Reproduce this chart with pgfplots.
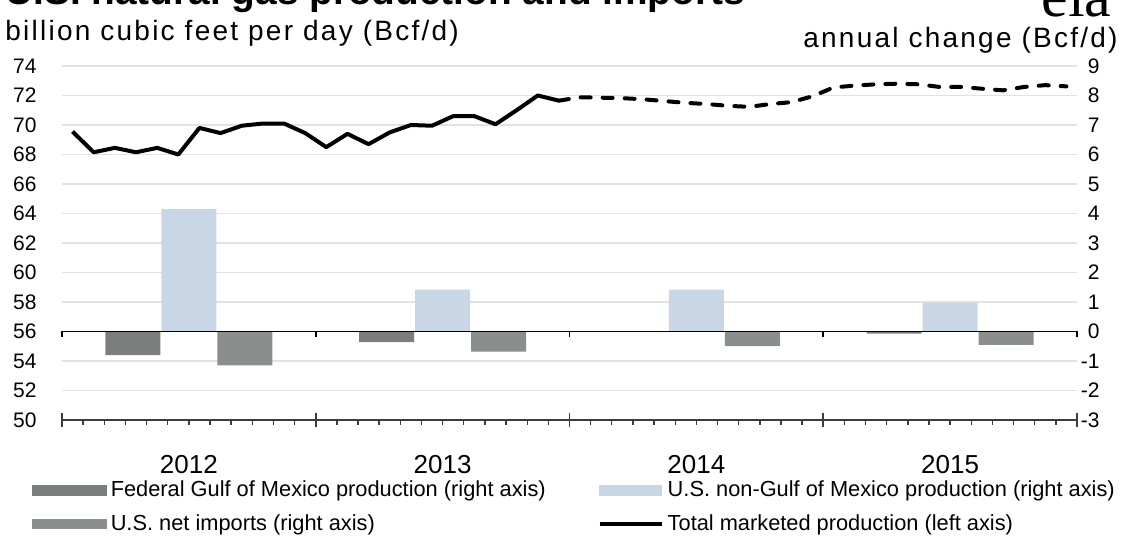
\documentclass[border=0pt]{standalone}
\usepackage{fontspec}
\setmainfont{Liberation Sans}
\newfontfamily\seriffont{Liberation Serif}
\newfontfamily\widefont[LetterSpace=8]{Liberation Sans}
\usepackage{pgfplots}
\pgfplotsset{compat=1.18}
\definecolor{fedgray}{RGB}{122,127,125}
\definecolor{netgray}{RGB}{138,142,140}
\definecolor{lightblue}{RGB}{200,214,230}
\definecolor{gridgray}{RGB}{226,226,226}
\definecolor{axisgray}{RGB}{60,60,60}
\begin{document}
\begin{tikzpicture}
\useasboundingbox (-31pt,-62pt) rectangle (532pt,210pt);
\clip (-31pt,-62pt) rectangle (532pt,210pt);

\begin{axis}[
  at={(0pt,0pt)}, anchor=south west,
  scale only axis, width=507.5pt, height=177pt,
  xmin=0, xmax=48, ymin=-3, ymax=9, clip=false,
  axis x line=none,
  axis y line*=right,
  y axis line style={draw=none},
  ytick={-3,-2,...,9},
  major tick length=0pt,
  ymajorgrids, grid style={gridgray, line width=0.6pt},
  /pgf/number format/assume math mode=true,
  yticklabel style={font=\fontsize{10.5}{12}\selectfont, anchor=east, inner sep=0pt, xshift=11.5pt},
]
\addplot[ybar, bar width=2.6, bar shift=-2.65, fill=fedgray, draw=none]
  coordinates {(6,-0.8) (18,-0.36) (30,0) (42,-0.07)};
\addplot[ybar, bar width=2.6, bar shift=0, fill=lightblue, draw=none]
  coordinates {(6,4.15) (18,1.42) (30,1.42) (42,0.98)};
\addplot[ybar, bar width=2.6, bar shift=2.65, fill=netgray, draw=none]
  coordinates {(6,-1.15) (18,-0.68) (30,-0.5) (42,-0.45)};
\draw[black, line width=0.9pt] (axis cs:0,0) -- (axis cs:48,0);
\draw[axisgray, line width=0.9pt] (axis cs:0,-3) -- (axis cs:48,-3);
\pgfplotsinvokeforeach{0,12,24,36,48}{
  \draw[black, line width=0.8pt] (axis cs:#1,0) -- ++(0pt,-3pt);
  \draw[axisgray, line width=0.8pt] (axis cs:#1,-3) ++(0pt,3.5pt) -- ++(0pt,-7pt);
}
\pgfplotsinvokeforeach{1,...,11,13,14,...,23,25,26,...,35,37,38,...,47}{
  \draw[axisgray, line width=0.7pt] (axis cs:#1,-3) -- ++(0pt,-2.5pt);
}
\end{axis}

\begin{axis}[
  at={(0pt,0pt)}, anchor=south west,
  scale only axis, width=507.5pt, height=177pt,
  xmin=0, xmax=48, ymin=50, ymax=74, clip=false,
  axis x line=none,
  axis y line*=left,
  y axis line style={draw=none},
  ytick={50,52,...,74},
  major tick length=0pt,
  /pgf/number format/assume math mode=true,
  yticklabel style={font=\fontsize{10.5}{12}\selectfont, anchor=east, inner sep=0pt, xshift=-12.5pt},
  legend columns=2,
  legend cell align=left,
  legend style={draw=none, fill=none, at={(axis description cs:-0.03,-0.16)}, anchor=north west,
    font=\fontsize{10.9}{12}\selectfont, inner sep=0pt, row sep=3.5pt,
    /tikz/every even column/.append style={column sep=24pt}},
]
\addlegendimage{legend image code/.code={\fill[fedgray] (0pt,-2.3pt) rectangle (37pt,2.3pt);}}
\addlegendentry{Federal Gulf of Mexico production (right axis)}
\addlegendimage{legend image code/.code={\fill[lightblue] (0pt,-2.3pt) rectangle (31pt,2.3pt);}}
\addlegendentry{U.S. non-Gulf of Mexico production (right axis)}
\addlegendimage{legend image code/.code={\fill[netgray] (0pt,-2.3pt) rectangle (37pt,2.3pt);}}
\addlegendentry{U.S. net imports (right axis)}
\addplot[black, line width=2pt, line join=round,
  legend image code/.code={\draw[black, line width=2pt] (0pt,0pt) -- (31pt,0pt);}]
  coordinates {(0.5,69.55) (1.5,68.15) (2.5,68.45) (3.5,68.15) (4.5,68.45) (5.5,68.0)
  (6.5,69.8) (7.5,69.45) (8.5,69.95) (9.5,70.1) (10.5,70.1) (11.5,69.45)
  (12.5,68.5) (13.5,69.4) (14.5,68.7) (15.5,69.5) (16.5,70.0) (17.5,69.95)
  (18.5,70.6) (19.5,70.6) (20.5,70.05) (21.5,71.0) (22.5,72.0) (23.5,71.65)};
\addlegendentry{Total marketed production (left axis)}
\addplot[black, line width=2pt, dash pattern=on 5pt off 6pt, line cap=round, forget plot]
  coordinates {(23.5,71.65) (24.5,71.88) (25.5,71.85) (26.5,71.82) (27.5,71.74) (28.5,71.62)
  (29.5,71.5) (30.5,71.42) (31.5,71.3) (32.5,71.23) (33.5,71.42) (34.5,71.55)
  (35.5,71.95) (36.5,72.55) (37.5,72.67) (38.5,72.76) (39.5,72.8) (40.5,72.76)
  (41.5,72.58) (42.5,72.58) (43.5,72.46) (44.5,72.35) (45.5,72.58) (46.5,72.7) (47.5,72.62)};
\end{axis}

\node[anchor=base west, font=\bfseries\fontsize{19.4}{22}\selectfont, inner sep=0pt] at (-28.5pt,207.5pt) {U.S. natural gas production and imports};
\node[anchor=base east, font=\seriffont\fontsize{30}{32}\selectfont, inner sep=0pt] at (525pt,201.5pt) {eia};
\node[anchor=base west, font=\widefont\fontsize{14}{16}\selectfont, inner sep=0pt] at (-28.5pt,189.5pt) {billion cubic feet per day (Bcf/d)};
\node[anchor=base east, font=\widefont\fontsize{14}{16}\selectfont, inner sep=0pt] at (528pt,186pt) {annual change (Bcf/d)};
\foreach \m/\y in {6/2012,18/2013,30/2014,42/2015}{
  \node[anchor=base, font=\fontsize{13}{15}\selectfont, inner sep=0pt] at ({\m*10.5729pt},-27pt) {\y};
}
\end{tikzpicture}
\end{document}
